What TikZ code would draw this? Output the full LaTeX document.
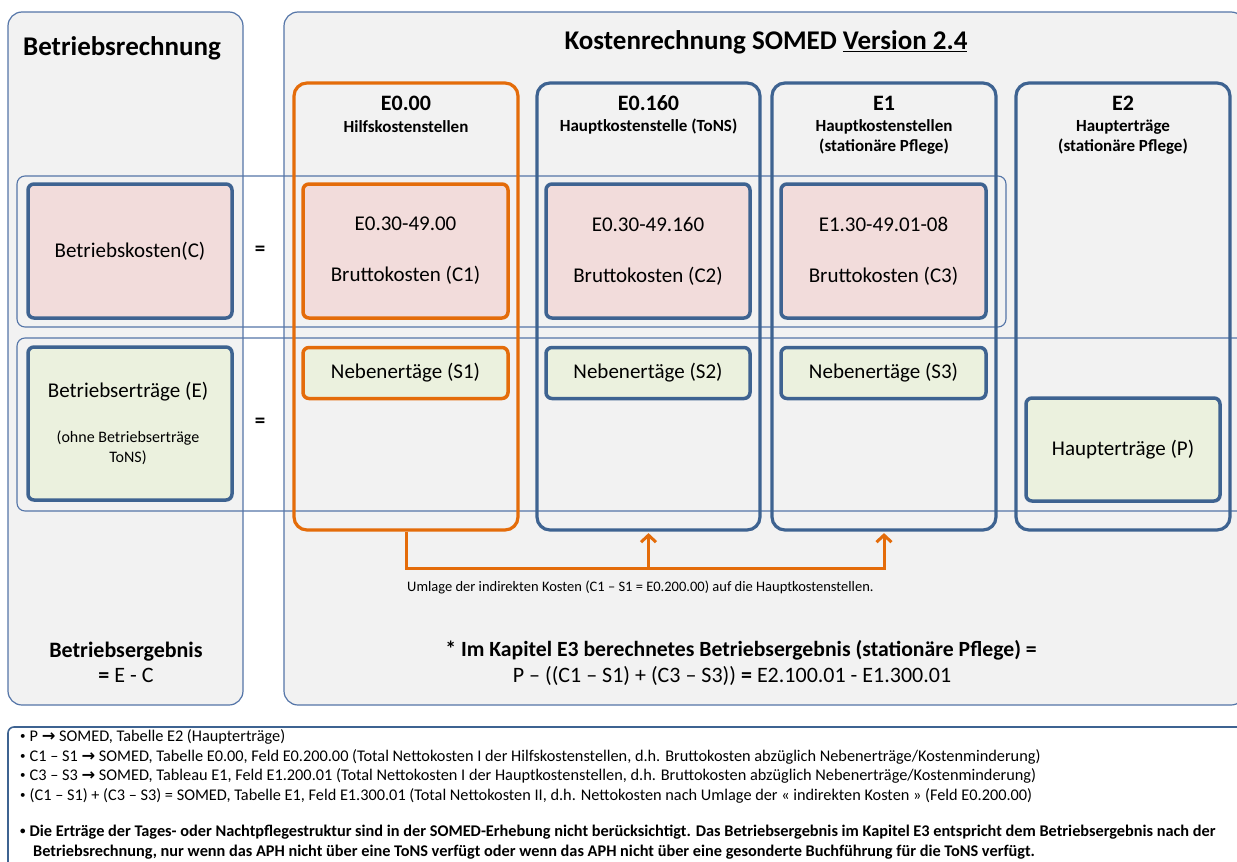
\documentclass[tikz,border=0pt]{standalone}
\usepackage{fontspec}
\setmainfont{Carlito}
\newfontfamily\arrowfont{DejaVu Sans}
\usetikzlibrary{arrows.meta,positioning,calc}
\definecolor{panelgray}{RGB}{242,242,242}
\definecolor{frameblue}{RGB}{62,99,145}
\definecolor{lineblue}{RGB}{84,117,168}
\definecolor{hkorange}{RGB}{228,108,10}
\definecolor{costred}{RGB}{242,220,219}
\definecolor{yieldgreen}{RGB}{235,241,222}
\newcommand{\somedarrow}{{\arrowfont\bfseries\symbol{"2192}}}
\newcommand{\notebullet}{\raisebox{1.8pt}{\fontsize{11}{11}\selectfont•}\hspace{4pt}}

\begin{document}
\begin{tikzpicture}[x=1pt,y=-1pt,>={Straight Barb[length=7pt,width=15pt]},
  panel/.style={draw=lineblue,line width=1.2pt,fill=panelgray,rounded corners=14pt,inner sep=0pt},
  band/.style={draw=lineblue,line width=1.1pt,rounded corners=8pt,inner sep=0pt},
  column/.style={draw=frameblue,line width=3.2pt,rounded corners=13pt,inner sep=0pt},
  costbox/.style={draw=frameblue,line width=3.5pt,fill=costred,rounded corners=6pt,inner sep=0pt,align=center,font=\fontsize{21}{25}\selectfont},
  yieldbox/.style={costbox,fill=yieldgreen},
  title/.style={font=\bfseries\fontsize{27}{32}\selectfont,inner sep=0pt},
  head/.style={font=\bfseries\fontsize{22}{26}\selectfont,inner sep=0pt},
  subhead/.style={font=\bfseries\fontsize{17}{20}\selectfont,align=center,inner sep=0pt},
  eqsign/.style={font=\bfseries\fontsize{21}{25}\selectfont},
  flow/.style={hkorange,line width=3pt},
  note/.style={anchor=west,font=\fontsize{16.3}{18}\selectfont,inner sep=0pt}]
\useasboundingbox (0,0) rectangle (1237,862);
% panels
\node[panel,minimum width=235pt,minimum height=693pt] (br) at (125.5,358.5) {};
\node[panel,minimum width=961pt,minimum height=693pt] (kr) at (764.5,358.5) {};
\node[title] (brtitle) at (122,48) {Betriebsrechnung};
\node[title] (krtitle) at (766,42) {Kostenrechnung SOMED \underline{Version 2.4}};
% rows
\node[band,minimum width=989pt,minimum height=151pt] (row1) at (511.5,251.5) {};
\node[band,minimum width=1228pt,minimum height=173pt] (row2) at (631,424.5) {};
% columns
\node[column,draw=hkorange,minimum width=224pt,minimum height=447pt] (hks) at (406,306.5) {};
\node[column,minimum width=223pt,minimum height=447pt] (tons) at (648.5,306.5) {};
\node[column,minimum width=224pt,minimum height=447pt] (hauptk) at (884,306.5) {};
\node[column,minimum width=214pt,minimum height=447pt] (ertrag) at (1123,306.5) {};
\node[head] (hkshead) at (406,103) {E0.00};
\node[subhead] (hkssub) at (406,127) {Hilfskostenstellen};
\node[head] (tonshead) at (648.5,103) {E0.160};
\node[subhead] (tonssub) at (648.5,127) {Hauptkostenstelle (ToNS)};
\node[head] (hauptkhead) at (884,103) {E1};
\node[subhead] (hauptksub) at (884,137) {Hauptkostenstellen\\(stationäre Pflege)};
\node[head] (ertraghead) at (1123,103) {E2};
\node[subhead] (ertragsub) at (1123,137) {Haupterträge\\(stationäre Pflege)};
% costs
\node[costbox,minimum width=204pt,minimum height=134pt] (bk) at (130,251) {Betriebskosten(C)};
\node[eqsign] (eq1) at (260,251) {=};
\node[costbox,draw=hkorange,minimum width=205pt,minimum height=134pt] (c1) at (405.5,251) {E0.30-49.00\\[26pt]Bruttokosten (C1)};
\node[costbox,minimum width=204pt,minimum height=134pt] (c2) at (648,251) {E0.30-49.160\\[26pt]Bruttokosten (C2)};
\node[costbox,minimum width=205pt,minimum height=134pt] (c3) at (883.5,251) {E1.30-49.01-08\\[26pt]Bruttokosten (C3)};
% yields
\node[yieldbox,minimum width=204pt,minimum height=153pt] (be) at (130,423.5) {};
\node[font=\fontsize{21}{25}\selectfont] (betext) at (128,392) {Betriebserträge (E)};
\node[font=\fontsize{16}{20}\selectfont,align=center] (benote) at (128,448) {(ohne Betriebserträge\\ToNS)};
\node[eqsign] (eq2) at (260,423) {=};
\node[yieldbox,draw=hkorange,minimum width=205pt,minimum height=51pt] (s1) at (405.5,373) {Nebenertäge (S1)};
\node[yieldbox,minimum width=204pt,minimum height=51pt] (s2) at (648,373) {Nebenertäge (S2)};
\node[yieldbox,minimum width=205pt,minimum height=51pt] (s3) at (883.5,373) {Nebenertäge (S3)};
\node[yieldbox,minimum width=194pt,minimum height=103pt] (p) at (1123,449.5) {Haupterträge (P)};
% Umlage
\coordinate (umlage) at ($(hks.south)+(0,37)$);
\draw[flow,->,shorten >=1.5pt] (hks.south) -- (umlage) -| (hauptk.south);
\draw[flow,->,shorten >=1.5pt] (tons.south |- umlage) -- (tons.south);
\node[anchor=west,font=\fontsize{14.5}{16}\selectfont,inner sep=0pt] (umlagetext) at (407,587) {Umlage der indirekten Kosten (C1 – S1 = E0.200.00) auf die Hauptkostenstellen.};
% results
\node[font=\fontsize{22}{25}\selectfont,align=center] (ergebnis) at (126,662.5) {\textbf{Betriebsergebnis}\\\textbf{=} E - C};
\node[font=\bfseries\fontsize{21.7}{24}\selectfont] (e3) at (741,650) {* Im Kapitel E3 berechnetes Betriebsergebnis (stationäre Pflege) =};
\node[font=\fontsize{22}{24}\selectfont] (e3formel) at (732,676) {P – ((C1 – S1) + (C3 – S3)) \textbf{=} E2.100.01 - E1.300.01};
% notes
\node[draw=frameblue,line width=1.6pt,rounded corners=6pt,minimum width=1242pt,minimum height=153pt] (notes) at (629,803.5) {};
\node[note] (n1) at (20,737) {\notebullet P \somedarrow{} SOMED, Tabelle E2 (Haupterträge)};
\node[note] (n2) at (20,757) {\notebullet C1 – S1 \somedarrow{} SOMED, Tabelle E0.00, Feld E0.200.00 (Total Nettokosten I der Hilfskostenstellen, d.h. Bruttokosten abzüglich Nebenerträge/Kostenminderung)};
\node[note] (n3) at (20,776) {\notebullet C3 – S3 \somedarrow{} SOMED, Tableau E1, Feld E1.200.01 (Total Nettokosten I der Hauptkostenstellen, d.h. Bruttokosten abzüglich Nebenerträge/Kostenminderung)};
\node[note] (n4) at (20,796) {\notebullet (C1 – S1) + (C3 – S3) = SOMED, Tabelle E1, Feld E1.300.01 (Total Nettokosten II, d.h. Nettokosten nach Umlage der « indirekten Kosten » (Feld E0.200.00)};
\node[note,font=\bfseries\fontsize{16.3}{18}\selectfont] (n5) at (20,832) {\notebullet Die Erträge der Tages- oder Nachtpflegestruktur sind in der SOMED-Erhebung nicht berücksichtigt. Das Betriebsergebnis im Kapitel E3 entspricht dem Betriebsergebnis nach der};
\node[note,font=\bfseries\fontsize{16.3}{18}\selectfont] (n6) at (33,852) {Betriebsrechnung, nur wenn das APH nicht über eine ToNS verfügt oder wenn das APH nicht über eine gesonderte Buchführung für die ToNS verfügt.};
\end{tikzpicture}
\end{document}
